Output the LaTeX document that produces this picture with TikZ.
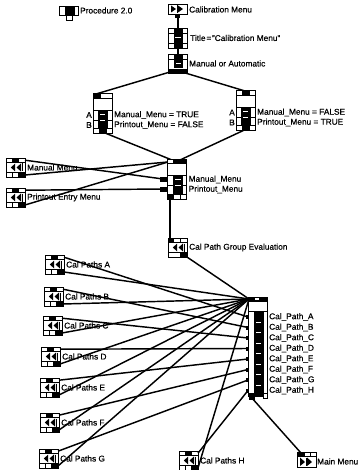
\documentclass[tikz,border=0pt]{standalone}
\usepackage{fontspec}
\usetikzlibrary{calc}
\setmainfont{Liberation Sans}[FakeBold=0.5]
\tikzset{
  x=1pt,y=-1pt,
  wire/.style={line width=1.45pt,black},
  cell/.style={draw=black,line width=.5pt,fill=white},
  blk/.style={fill=black,draw=black,line width=.3pt},
  iconbox/.style={draw=black,line width=.8pt,fill=white,inner sep=0pt,outer sep=0pt,anchor=north west},
  lab/.style={anchor=west,inner sep=0pt,font=\fontsize{8.3}{9}\selectfont,text=black},
  letter/.style={anchor=east,inner sep=0pt,font=\fontsize{8.3}{9}\selectfont,text=black},
  tri/.style={fill=black,draw=none}
}
% double triangles: #1 centre x, #2 centre y, #3 direction (+1 right, -1 left)
\newcommand{\dbltri}[3]{%
  \fill[tri] (#1-5*#3,#2-4) -- (#1-0.5*#3,#2) -- (#1-5*#3,#2+4) -- cycle;
  \fill[tri] (#1+0.8*#3,#2-4) -- (#1+5.2*#3,#2) -- (#1+0.8*#3,#2+4) -- cycle;
  \draw[black,line width=.9pt] (#1-6.2*#3,#2-4) -- (#1-6.2*#3,#2+4);
}
% menu icon with ports: name x y label
\newcommand{\backicon}[4]{%
  \node[iconbox,minimum width=19pt,minimum height=19pt] (#1) at (#2,#3) {};
  \path[cell] (#2,#3) rectangle ++(19,4.5);
  \path[blk] (#2+6.5,#3) rectangle ++(6,4.5);
  \path[cell] (#2,#3+14.5) rectangle ++(19,4.5);
  \path[cell] (#2+6.5,#3+14.5) rectangle ++(6,4.5);
  \path[blk] (#2+13,#3+14.5) rectangle ++(6,4.5);
  \dbltri{#2+10}{#3+9.5}{-1}
  \node[lab] (#1-l) at (#2+21,#3+9.5) {#4};
  \coordinate (#1-t) at (#2+19,#3+2.2);
  \coordinate (#1-b) at (#2+19,#3+17);
}
% branch/assignment rows
\newcommand{\assign}[8]{%
  % name x y toplabelA labelB topfill(left/centre) Aletter Bletter
  \node[iconbox,minimum width=19pt,minimum height=40pt] (#1) at (#2,#3) {};
  \path[cell] (#2,#3) rectangle ++(19,5);
  \path[blk] #6;
  \path[cell] (#2,#3+34.5) rectangle ++(19,5.5);
  \path[blk] (#2+6,#3+34.5) rectangle ++(7,5.5);
  \path[cell] (#2,#3+17) rectangle ++(19,10);
  \path[cell] (#2,#3+27) rectangle ++(19,8);
  \path[blk] (#2+5,#3+17) rectangle ++(9,18);
  \draw[white,line width=.4pt] (#2+7,#3+21) -- ++(5,0) (#2+7,#3+27) -- ++(5,0);
  \node[lab] (#1-la) at (#2+21,#3+22) {#4};
  \node[lab] (#1-lb) at (#2+21,#3+32) {#5};
  \node[letter] (#1-a) at (#2-1,#3+22) {#7};
  \node[letter] (#1-bb) at (#2-1,#3+32) {#8};
  \coordinate (#1-top) at (#2+9.5,#3+1);
  \coordinate (#1-bot) at (#2+9.5,#3+39);
}
\begin{document}
\begin{tikzpicture}
\useasboundingbox (0,0) rectangle (360,470);
\fill[white] (0,0) rectangle (360,470);

% coordinates used by the connectors
\coordinate (mport1) at (163,179);
\coordinate (mport2) at (163,189);
\coordinate (mtop)   at (168,162);
\coordinate (mtopr)  at (180,160);
\coordinate (mtopl)  at (172,160);
\coordinate (mbot)   at (170,198);
\coordinate (gtop)   at (170,239);
\coordinate (gbot)   at (184,255);
\coordinate (rtop)   at (249,299);
\coordinate (rbot)   at (251,397);
\coordinate (mmtop)  at (301,453);
\coordinate (pa) at (248,317);
\coordinate (pb) at (248,327.5);
\coordinate (pc) at (248,338);
\coordinate (pd) at (248,348.5);
\coordinate (pe) at (248,359);
\coordinate (pf) at (248,369.5);
\coordinate (pg) at (248,380);
\coordinate (ph) at (248,390.5);

% ---- procedure
\node[iconbox,minimum width=19pt,minimum height=9pt] (proc) at (59.5,6) {};
\path[blk] (65,7.5) rectangle (74,15);
\path[cell] (66,15) rectangle (72,20);
\node[lab] (procl) at (80,10.5) {Procedure 2.0};

% ---- calibration menu
\node[iconbox,minimum width=19pt,minimum height=10pt] (cal) at (168.5,4) {};
\fill[tri] (171,5.5) -- (176,9) -- (171,12.5) -- cycle;
\fill[tri] (178,5.5) -- (183,9) -- (178,12.5) -- cycle;
\draw[black,line width=.8pt] (177,5) -- (177,13);
\path[blk] (175,14) rectangle (179,17.5);
\node[lab] (call) at (189,9.5) {Calibration Menu};

% ---- title
\node[iconbox,minimum width=19pt,minimum height=20pt] (title) at (168.5,28) {};
\path[cell] (168.5,28) rectangle ++(19,5);
\path[cell] (168.5,43) rectangle ++(19,5);
\path[blk] (174,28) rectangle ++(8,20);
\draw[white,line width=.4pt] (175,37) -- ++(6,0);
\node[lab] (titlel) at (190,38) {Title\kern.8pt=\kern.8pt"Calibration Menu"};

% ---- manual or automatic
\node[iconbox,minimum width=19pt,minimum height=19pt] (moa) at (168.5,54) {};
\path[cell] (168.5,54) rectangle ++(19,5);
\path[blk] (174,54) rectangle ++(8,5);
\path[blk] (174,60) rectangle ++(8,7);
\path[blk] (168.5,69) rectangle ++(4.5,4);
\path[blk] (173.5,69) rectangle ++(8,4);
\path[blk] (182,69) rectangle ++(5.5,4);
\draw[white,line width=.4pt] (176,63) -- ++(5,0);
\node[lab] (moal) at (189,63.5) {Manual or Automatic};

% ---- connectors above the branches
\draw[wire] (cal) -- (title);
\draw[wire] (title) -- (moa);
\coordinate (moabl) at (170,72);
\coordinate (moabr) at (182,72);

% ---- branches
\assign{bl}{93}{93}{Manual\_Menu = TRUE}{Printout\_Menu = FALSE}{(93,93) rectangle ++(7,5)}{A}{B}
\assign{br}{236}{90.5}{Manual\_Menu = FALSE}{Printout\_Menu = TRUE}{(242,90.5) rectangle ++(7,5)}{A}{B}
\draw[wire] (moabl) -- (96,94);
\draw[wire] (moabr) -- (245,91);
\draw[wire] (bl-bot) -- (mtopl);
\draw[wire] (br-bot) -- (mtopr);

% ---- left menus
\backicon{mm}{6}{158}{Manual Menu}
\backicon{pm}{6}{188}{Printout Entry Menu}
\draw[wire] (mm-t) -- (mport1);
\draw[wire] (mm-b) -- (mtop);
\draw[wire] (pm-t) -- (mport2);
\draw[wire] (pm-b) -- (mtop);

% ---- merge
\node[iconbox,minimum width=19pt,minimum height=40pt] (mrg) at (167.5,159) {};
\path[cell] (167.5,159) rectangle ++(19,4.5);
\path[blk] (173,159) rectangle ++(13,4.5);
\path[cell] (167.5,175) rectangle ++(19,10);
\path[cell] (167.5,185) rectangle ++(19,14);
\path[blk] (173,175) rectangle ++(9,19);
\draw[white,line width=.4pt] (175,179) -- ++(6,0) (175,185) -- ++(6,0);
\path[blk] (160.5,177) rectangle (167,181.5);
\path[blk] (160.5,187) rectangle (167,191.5);
\path[blk] (167.5,194.5) rectangle (173,199);
\path[cell] (180.5,194.5) rectangle (186.5,199);
\node[lab] (mrg-a) at (188.5,179.5) {Manual\_Menu};
\node[lab] (mrg-b) at (188.5,189.5) {Printout\_Menu};

% ---- group evaluation
\draw[wire] (mbot) -- (gtop);
\backicon{grp}{168}{238}{Cal Path Group Evaluation}
\path[blk] (168,238) rectangle ++(5.5,4.5);
\path[cell] (173.5,238) rectangle ++(7,4.5);
\path[cell] (168,252.5) rectangle ++(12,4.5);
\path[blk] (180,252.5) rectangle ++(7,4.5);

% ---- cal paths
\draw[wire] (gbot) -- (rtop);
\backicon{a}{45}{255}{Cal Paths A}
\backicon{b}{44}{287}{Cal Paths B}
\backicon{c}{43}{316}{Cal Paths C}
\backicon{d}{41}{347}{Cal Paths D}
\backicon{e}{40}{378}{Cal Paths E}
\backicon{f}{40}{413}{Cal Paths F}
\backicon{g}{39}{449}{Cal Paths G}
\backicon{h}{179}{451}{Cal Paths H}
\foreach \n/\p in {a/pa,b/pb,c/pc,d/pd,e/pe,f/pf,g/pg,h/ph}{
  \draw[wire] (\n-t) -- (\p);
  \draw[wire] (\n-b) -- (rtop);
}

% ---- big right node
\node[iconbox,minimum width=19pt,minimum height=99pt] (big) at (248.5,297) {};
\path[cell] (248.5,297) rectangle ++(19,4.5);
\path[blk] (248.5,297) rectangle ++(5,4.5);
\path[blk] (260,297) rectangle ++(7.5,4.5);
\path[cell] (254,297.5) rectangle ++(5,3);
\path[blk] (254,311.5) rectangle (263,393);
\draw[black,line width=.5pt] (248.5,311.5) -- (267.5,311.5);
\foreach \yy/\t in {317/A,327.5/B,338/C,348.5/D,359/E,369.5/F,380/G,390.5/H}{
  \node[lab] (lab\t) at (269,\yy) {Cal\_Path\_\t};
  \draw[white,line width=.3pt] (256,\yy+5) -- (261,\yy+5);
}
\foreach \p in {pa,pb,pc,pd,pe,pf,pg,ph}{
  \path[blk] ($(\p)+(-2,-1.5)$) rectangle ($(\p)+(.5,1.5)$);
}
\path[cell] (263,393) rectangle (267.5,398);
\path[blk] (248.5,393) rectangle (263,396);
\path[blk] (249,396) rectangle (254,399);

% ---- main menu
\draw[wire] (rbot) -- (mmtop);
\node[iconbox,minimum width=19pt,minimum height=15pt] (mm2) at (297,452) {};
\path[cell] (297,452) rectangle ++(19,4);
\path[blk] (297,452) rectangle ++(6,4);
\path[cell] (304,452) rectangle ++(6,4);
\fill[tri] (300,457.5) -- (305,462) -- (300,466) -- cycle;
\fill[tri] (307,457.5) -- (312,462) -- (307,466) -- cycle;
\draw[black,line width=.8pt] (306,458) -- (306,466);
\node[lab] (mm2l) at (317,461.5) {Main Menu};
\end{tikzpicture}
\end{document}
